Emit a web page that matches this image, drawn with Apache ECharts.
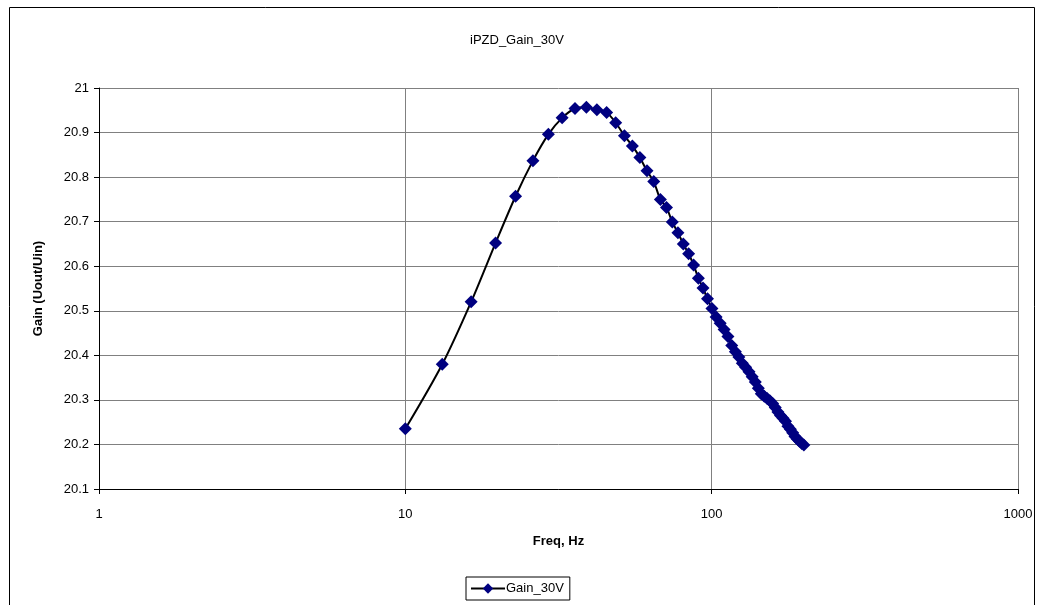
<!DOCTYPE html>
<html><head><meta charset="utf-8">
<script src="https://cdn.jsdelivr.net/npm/echarts@6/dist/echarts.min.js"></script>
<style>html,body{margin:0;padding:0;background:#fff}#c{width:1040px;height:605px}</style>
</head><body><div id="c"></div>
<script>
const chartTitle = 'iPZD_Gain_30V';
const seriesName = 'Gain_30V';
const xName = 'Freq, Hz';
const yName = 'Gain (Uout/Uin)';
const freq = [10, 13.2, 16.4, 19.7, 22.9, 26.1, 29.3, 32.5, 35.8, 39.0,
  42.2, 45.4, 48.6, 51.9, 55.1, 58.3, 61.5, 64.7, 68.0, 71.2,
  74.4, 77.6, 80.8, 84.1, 87.3, 90.5, 93.7, 96.9, 100.2, 103.4,
  106.6, 109.8, 113.0, 116.3, 119.5, 122.7, 125.9, 129.1, 132.4, 135.6,
  138.8, 142.0, 145.2, 148.5, 151.7, 154.9, 158.1, 161.3, 164.6, 167.8,
  171.0, 174.2, 177.4, 180.7, 183.9, 187.1, 190.3, 193.5, 196.8, 200.0];
const gain = [20.235, 20.38, 20.52, 20.652, 20.757, 20.837, 20.896, 20.933, 20.954, 20.957,
  20.951, 20.945, 20.922, 20.893, 20.870, 20.844, 20.814, 20.790, 20.750, 20.732,
  20.699, 20.675, 20.650, 20.628, 20.603, 20.573, 20.551, 20.527, 20.505, 20.486,
  20.472, 20.458, 20.442, 20.422, 20.408, 20.396, 20.382, 20.373, 20.363, 20.352,
  20.340, 20.326, 20.314, 20.308, 20.303, 20.298, 20.292, 20.283, 20.273, 20.265,
  20.259, 20.252, 20.241, 20.234, 20.226, 20.218, 20.212, 20.207, 20.202, 20.199];

const chart = echarts.init(document.getElementById('c'));
const font = 'Liberation Sans, Arial, sans-serif';
chart.setOption({
  animation: false,
  backgroundColor: '#ffffff',
  textStyle: { fontFamily: font },
  title: { text: chartTitle, left: 465, top: 29,
    textStyle: { fontSize: 13, fontWeight: 'normal', color: '#000', fontFamily: font } },
  graphic: [{ type: 'rect', shape: { x: 9.5, y: 7.5, width: 1025, height: 620 },
    style: { fill: 'none', stroke: '#000', lineWidth: 1 }, silent: true, z: -1 }],
  legend: { data: [seriesName], left: 466, top: 577, orient: 'horizontal',
    borderColor: '#000', borderWidth: 1, borderRadius: 0, padding: [5, 6, 5, 4],
    itemWidth: 34, itemHeight: 13, itemGap: 2,
    textStyle: { fontSize: 13, color: '#000', fontFamily: font, padding: [0,0,0,-4] } },
  grid: { left: 99, right: 22, top: 88, bottom: 116, containLabel: false },
  xAxis: { type: 'log', logBase: 10, min: 1, max: 1000,
    name: xName, nameLocation: 'middle', nameGap: 46,
    nameTextStyle: { fontSize: 13, fontWeight: 'bold', color: '#000', fontFamily: font },
    axisLine: { lineStyle: { color: '#000', width: 1 } },
    axisTick: { show: true, inside: false, length: 5, lineStyle: { color: '#000' } },
    axisLabel: { fontSize: 13, color: '#000', margin: 19, fontFamily: font,
      formatter: v => String(Math.round(v)) },
    splitLine: { show: true, lineStyle: { color: '#808080', width: 1 } },
    minorTick: { show: false }, minorSplitLine: { show: false } },
  yAxis: { type: 'value', min: 20.1, max: 21, interval: 0.1,
    name: yName, nameLocation: 'middle', nameGap: 54, nameRotate: 90,
    nameTextStyle: { fontSize: 13, fontWeight: 'bold', color: '#000', fontFamily: font },
    axisLine: { show: true, lineStyle: { color: '#000', width: 1 } },
    axisTick: { show: true, inside: false, length: 5, lineStyle: { color: '#000' } },
    axisLabel: { fontSize: 13, color: '#000', margin: 10, fontFamily: font,
      formatter: v => String(parseFloat(v.toFixed(1))) },
    splitLine: { show: true, lineStyle: { color: '#808080', width: 1 } } },
  series: [{
    name: seriesName, type: 'line', smooth: 0.3,
    data: freq.map((f, i) => [f, gain[i]]),
    symbol: 'diamond', symbolSize: 13,
    lineStyle: { color: '#000', width: 2 },
    itemStyle: { color: '#000080', borderWidth: 0 },
    emphasis: { disabled: true }
  }]
});
</script></body></html>
